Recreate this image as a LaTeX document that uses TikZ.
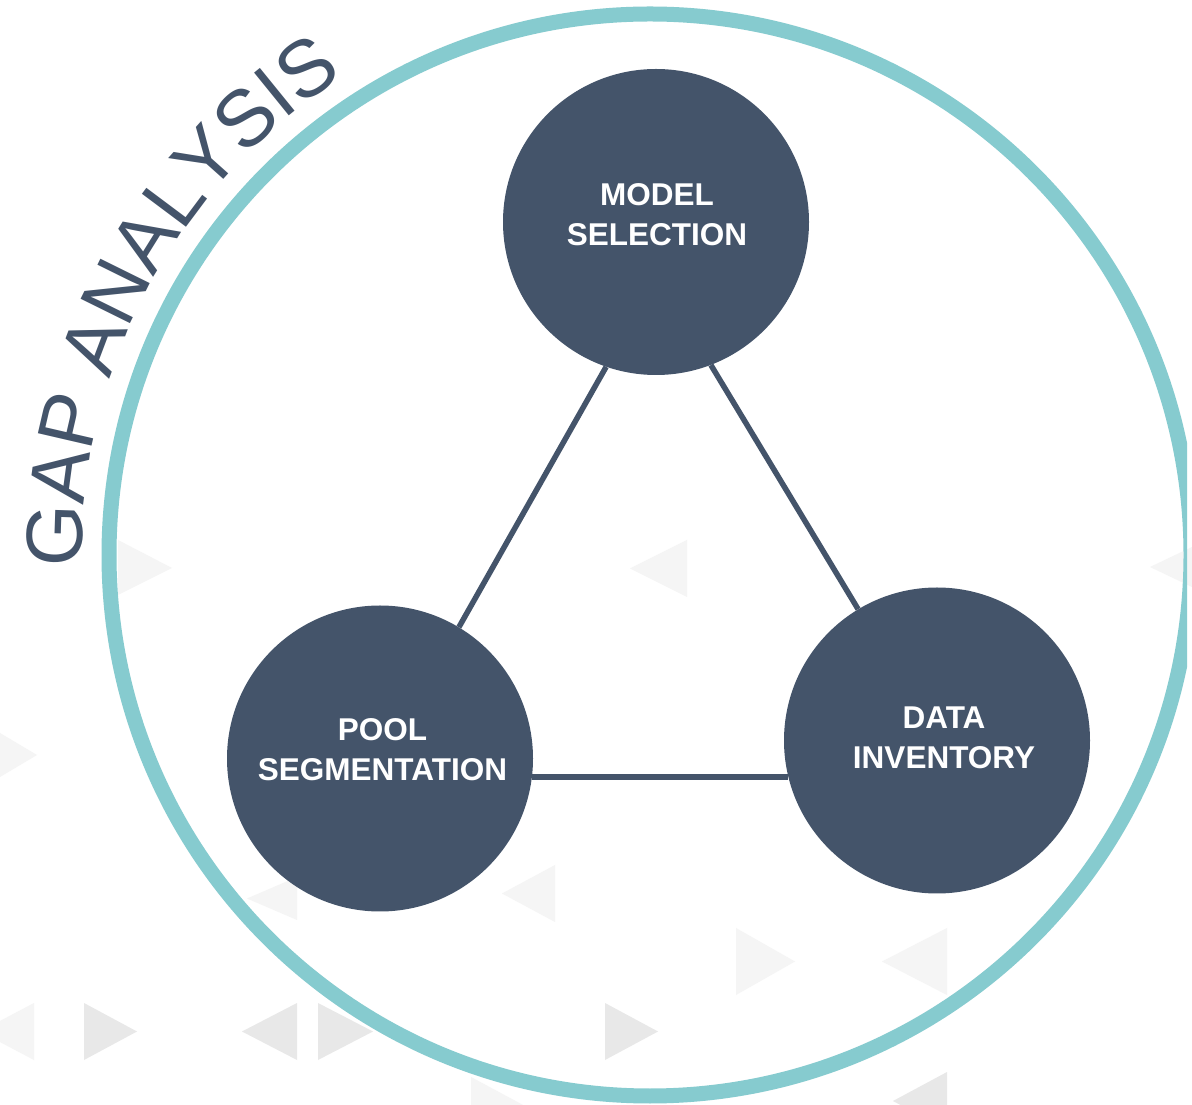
\documentclass[tikz,border=0pt]{standalone}
\usepackage{fontspec}
\setmainfont{Liberation Sans}
\usetikzlibrary{decorations.text}
\definecolor{slate}{HTML}{44546A}
\definecolor{ringteal}{HTML}{86CBCF}
\newcommand\gapfont{\fontsize{80}{80}\selectfont}
\pgfdeclarelayer{back}
\pgfdeclarelayer{wires}
\pgfsetlayers{back,wires,main}
\begin{document}
\begin{tikzpicture}[x=1pt,y=1pt,
  hub/.style={circle, fill=slate, minimum size=306pt, inner sep=0pt},
  caption/.style={text=white, font=\bfseries\fontsize{31.5}{40}\selectfont, align=center, inner sep=0pt},
  link/.style={draw=slate, line width=5.5pt},
  ghost/.style={fill=black!9, draw=none},
  ghostlight/.style={fill=black!4, draw=none}]
\useasboundingbox (0,0) rectangle (1192,1104);

% the three topic circles
\node[hub] (ms) at (656,882) {};
\node[hub] (ps) at (380,345.5) {};
\node[hub] (di) at (937,363.5) {};

\node[caption] at ([shift={(1,7.5)}]ms.center) {MODEL\\SELECTION};
\node[caption] at ([shift={(2.5,8.5)}]ps.center) {POOL\\SEGMENTATION};
\node[caption] at ([shift={(7,3)}]di.center) {DATA\\INVENTORY};

% connectors between the circles
\begin{pgfonlayer}{wires}
  \draw[link] (ms.251.8) -- (ps.59.6);
  \draw[link] (ms.291.4) -- (di.121.7);
  \draw[link] (ps.353.4) -- (ps.353.4 -| di.193.4);
\end{pgfonlayer}

\begin{pgfonlayer}{back}
  \fill[white] (0,0) rectangle (1192,1104);
  % faint triangle pattern in the background
  \fill[ghost] (84,101) -- (137,72.5) -- (84,44) -- cycle;
  \fill[ghost] (297,101) -- (242,72.5) -- (297,44) -- cycle;
  \fill[ghost] (318,101) -- (373,72.5) -- (318,44) -- cycle;
  \fill[ghost] (605,101) -- (658,72.5) -- (605,44) -- cycle;
  \fill[ghost] (947,32) -- (893,3) -- (947,-26) -- cycle;
  \fill[ghostlight] (736,176) -- (795,142.5) -- (736,109) -- cycle;
  \fill[ghostlight] (947,176) -- (882,142.5) -- (947,109) -- cycle;
  \fill[ghostlight] (555,239) -- (502,210.5) -- (555,182) -- cycle;
  \fill[ghostlight] (471,27) -- (525,-2) -- (471,-30) -- cycle;
  \fill[ghostlight] (687,564) -- (630,535.5) -- (687,507) -- cycle;
  \fill[ghostlight] (118,564) -- (172,536) -- (118,509) -- cycle;
  \fill[ghostlight] (34,101) -- (-20,72.5) -- (34,44) -- cycle;
  \fill[ghostlight] (0,371) -- (37,349) -- (0,327) -- cycle;
  \fill[ghostlight] (297,227) -- (247,205.5) -- (297,184) -- cycle;
  \fill[ghostlight] (1192,557) -- (1150,537) -- (1192,517) -- cycle;

  % outer ring
  \begin{scope}
    \clip (0,0) rectangle (1187,1104);
    \draw[ringteal, line width=15pt] (650,549) circle[radius=541];
  \end{scope}

  % curved title
  \path[decorate, decoration={text along path, text color=slate,
      text={|\gapfont|GAP ANALYSIS}}]
    (650,549) ++(181.3:568) arc[start angle=181.3, end angle=110, radius=568];
\end{pgfonlayer}
\end{tikzpicture}
\end{document}
